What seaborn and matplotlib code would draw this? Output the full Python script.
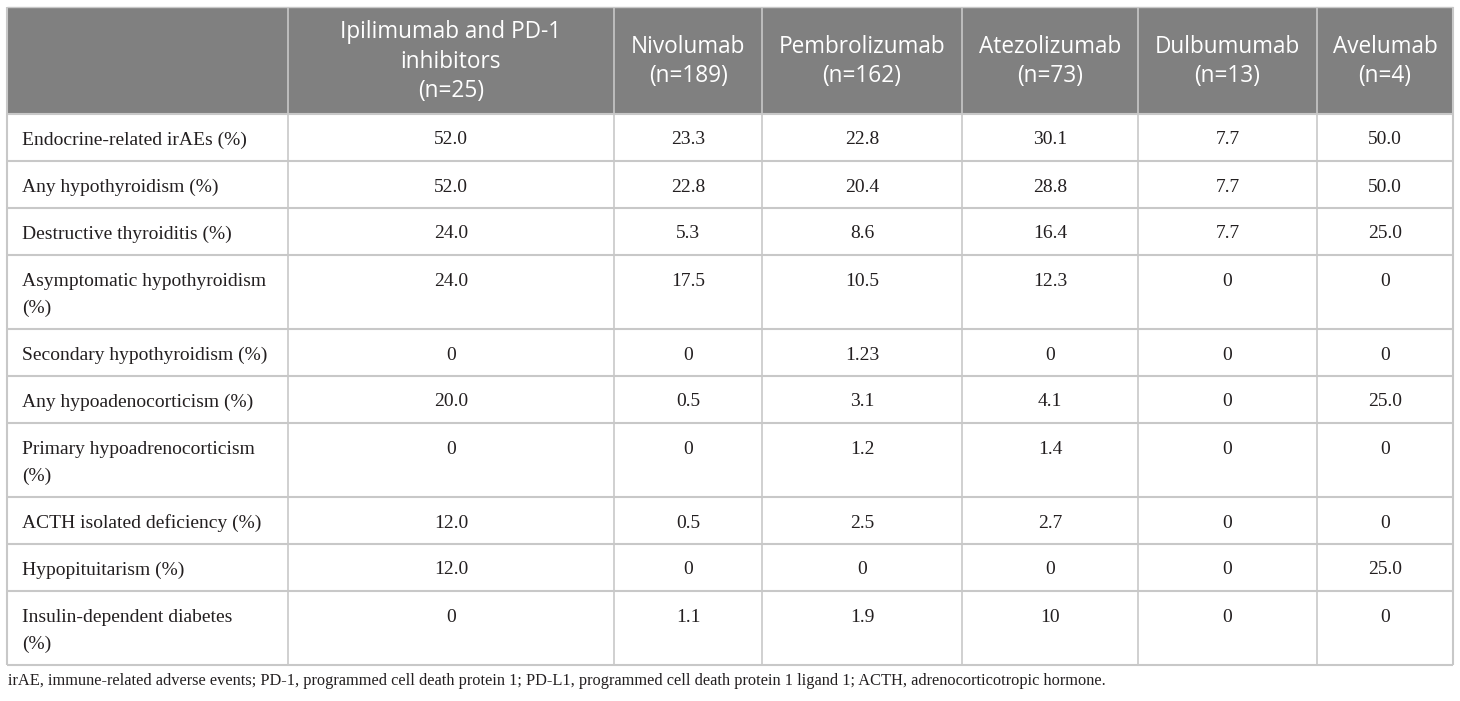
import numpy as np
import pandas as pd
import seaborn as sns
import matplotlib.pyplot as plt
from matplotlib.patches import Rectangle

## 표 데이터
drugs = ["Ipilimumab and PD-1\ninhibitors\n(n=25)", "Nivolumab\n(n=189)", "Pembrolizumab\n(n=162)",
         "Atezolizumab\n(n=73)", "Dulbumumab\n(n=13)", "Avelumab\n(n=4)"]
events = ["Endocrine-related irAEs (%)", "Any hypothyroidism (%)", "Destructive thyroiditis (%)",
          "Asymptomatic hypothyroidism\n(%)", "Secondary hypothyroidism (%)", "Any hypoadenocorticism (%)",
          "Primary hypoadrenocorticism\n(%)", "ACTH isolated deficiency (%)", "Hypopituitarism (%)",
          "Insulin-dependent diabetes\n(%)"]
ipi_pd1 = ["52.0", "52.0", "24.0", "24.0", "0", "20.0", "0", "12.0", "12.0", "0"]
nivolumab = ["23.3", "22.8", "5.3", "17.5", "0", "0.5", "0", "0.5", "0", "1.1"]
pembrolizumab = ["22.8", "20.4", "8.6", "10.5", "1.23", "3.1", "1.2", "2.5", "0", "1.9"]
atezolizumab = ["30.1", "28.8", "16.4", "12.3", "0", "4.1", "1.4", "2.7", "0", "10"]
dulbumumab = ["7.7", "7.7", "7.7", "0", "0", "0", "0", "0", "0", "0"]
avelumab = ["50.0", "50.0", "25.0", "0", "0", "25.0", "0", "0", "25.0", "0"]
footnote = ("irAE, immune-related adverse events; PD-1, programmed cell death protein 1; "
            "PD-L1, programmed cell death protein 1 ligand 1; ACTH, adrenocorticotropic hormone.")

table = pd.DataFrame(dict(zip(drugs, [ipi_pd1, nivolumab, pembrolizumab,
                                      atezolizumab, dulbumumab, avelumab])), index=events)

## 레이아웃 (픽셀 단위)
col_w = [281, 326, 148, 200, 176, 179, 136]
x_edges = 7 + np.concatenate([[0], np.cumsum(col_w)])
head_top, head_h = 7, 107
row_h = [74 if "\n" in e else 47 for e in events]  ### 두 줄 라벨이면 행이 더 높다
y_edges = head_top + head_h + np.concatenate([[0], np.cumsum(row_h)])

sns.set_theme(style="white")
head_font = ["Open Sans", "DejaVu Sans"]
body_font = ["Liberation Serif", "DejaVu Serif"]
ink = "#231f20"

fig = plt.figure(figsize=(14.6, 7.01), dpi=100)
ax = fig.add_axes([0, 0, 1, 1])
ax.set_xlim(0, 1460)
ax.set_ylim(701, 0)
ax.axis("off")

## 헤더
ax.add_patch(Rectangle((x_edges[0], head_top), x_edges[-1] - x_edges[0], head_h,
                       facecolor="#808080", edgecolor="none"))
for j, name in enumerate(table.columns):
    xc = (x_edges[j + 1] + x_edges[j + 2]) / 2
    ax.text(xc, head_top + head_h / 2 + 1, name, ha="center", va="center", color="white",
            fontsize=16.3, family=head_font, linespacing=1.3)

## 본문
line_gap = 27
for i, ev in enumerate(table.index):
    y0 = y_edges[i] + 24
    for k, part in enumerate(ev.split("\n")):
        ax.text(x_edges[0] + 15, y0 + k * line_gap, part, ha="left", va="center_baseline",
                color=ink, fontsize=14, family=body_font)
    for j, val in enumerate(table.iloc[i]):
        xc = (x_edges[j + 1] + x_edges[j + 2]) / 2
        ax.text(xc, y0, val, ha="center", va="center_baseline", color=ink,
                fontsize=14, family=body_font)

## 격자선
grid = "#c8c8c8"
ax.hlines(y_edges, x_edges[0], x_edges[-1], color=grid, lw=1.5)
ax.vlines(x_edges[1:-1], head_top, y_edges[-1], color=grid, lw=1.2)
ax.vlines([x_edges[0], x_edges[-1]], head_top, y_edges[-1], color=grid, lw=1.5)
ax.hlines(head_top, x_edges[0], x_edges[-1], color=grid, lw=1.0)

## 각주
ax.text(x_edges[0] + 1, y_edges[-1] + 14, footnote, ha="left", va="center_baseline",
        color=ink, fontsize=11.8, family=body_font)

fig.savefig("out.png", dpi=100)
